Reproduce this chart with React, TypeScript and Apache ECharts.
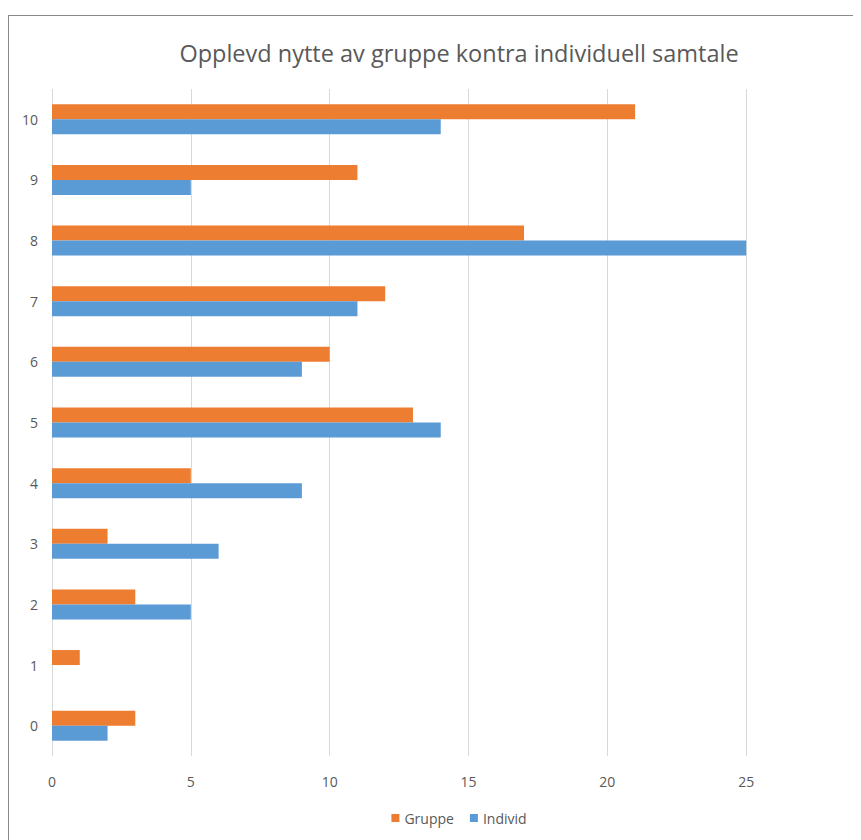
import React, { useEffect, useRef } from "react";
import * as echarts from "echarts";

const categories = ["0", "1", "2", "3", "4", "5", "6", "7", "8", "9", "10"];
const gruppe = [3, 1, 3, 2, 5, 13, 10, 12, 17, 11, 21];
const individ = [2, 0, 5, 6, 9, 14, 9, 11, 25, 5, 14];
const titleText = "Opplevd nytte av gruppe kontra individuell samtale";

const FONT = "'Open Sans', sans-serif";

export default function App() {
  const ref = useRef<HTMLDivElement>(null);
  useEffect(() => {
    document.body.style.overflow = "hidden";
    const chart = echarts.init(ref.current!, undefined, { renderer: "svg" });
    chart.setOption({
      animation: false,
      title: {
        text: titleText,
        left: "center",
        top: 20,
        textStyle: { fontFamily: FONT, fontSize: 23.5, fontWeight: "normal", color: "#595959" },
      },
      legend: {
        bottom: 16,
        left: "center",
        itemWidth: 8,
        itemHeight: 8,
        itemGap: 16,
        icon: "rect",
        textStyle: { fontFamily: FONT, fontSize: 14, color: "#595959" },
        data: ["Gruppe", "Individ"],
      },
      grid: { left: 43, right: 24, top: 73, bottom: 90, containLabel: false },
      xAxis: {
        type: "value",
        min: 0,
        max: 30,
        interval: 5,
        axisLine: { show: false },
        axisTick: { show: false },
        splitLine: { lineStyle: { color: "#d9d9d9", width: 1 } },
        axisLabel: { fontFamily: FONT, fontSize: 14, color: "#595959", margin: 18, showMaxLabel: false },
      },
      yAxis: {
        type: "category",
        data: categories,
        axisLine: { show: false },
        axisTick: { show: false },
        axisLabel: { fontFamily: FONT, fontSize: 14, color: "#595959", margin: 14 },
      },
      series: [
        {
          name: "Gruppe",
          type: "bar",
          data: gruppe,
          barWidth: 15,
          barGap: "0%",
          itemStyle: { color: "#ED7D31" },
        },
        {
          name: "Individ",
          type: "bar",
          data: individ,
          barWidth: 15,
          barGap: "0%",
          itemStyle: { color: "#5B9BD5" },
        },
      ],
    });
    return () => chart.dispose();
  }, []);
  return (
    <div
      ref={ref}
      style={{
        width: 900,
        height: 830,
        marginTop: 7,
        borderLeft: "1px solid #898989",
        borderTop: "1px solid #898989",
        background: "#fff",
      }}
    />
  );
}
